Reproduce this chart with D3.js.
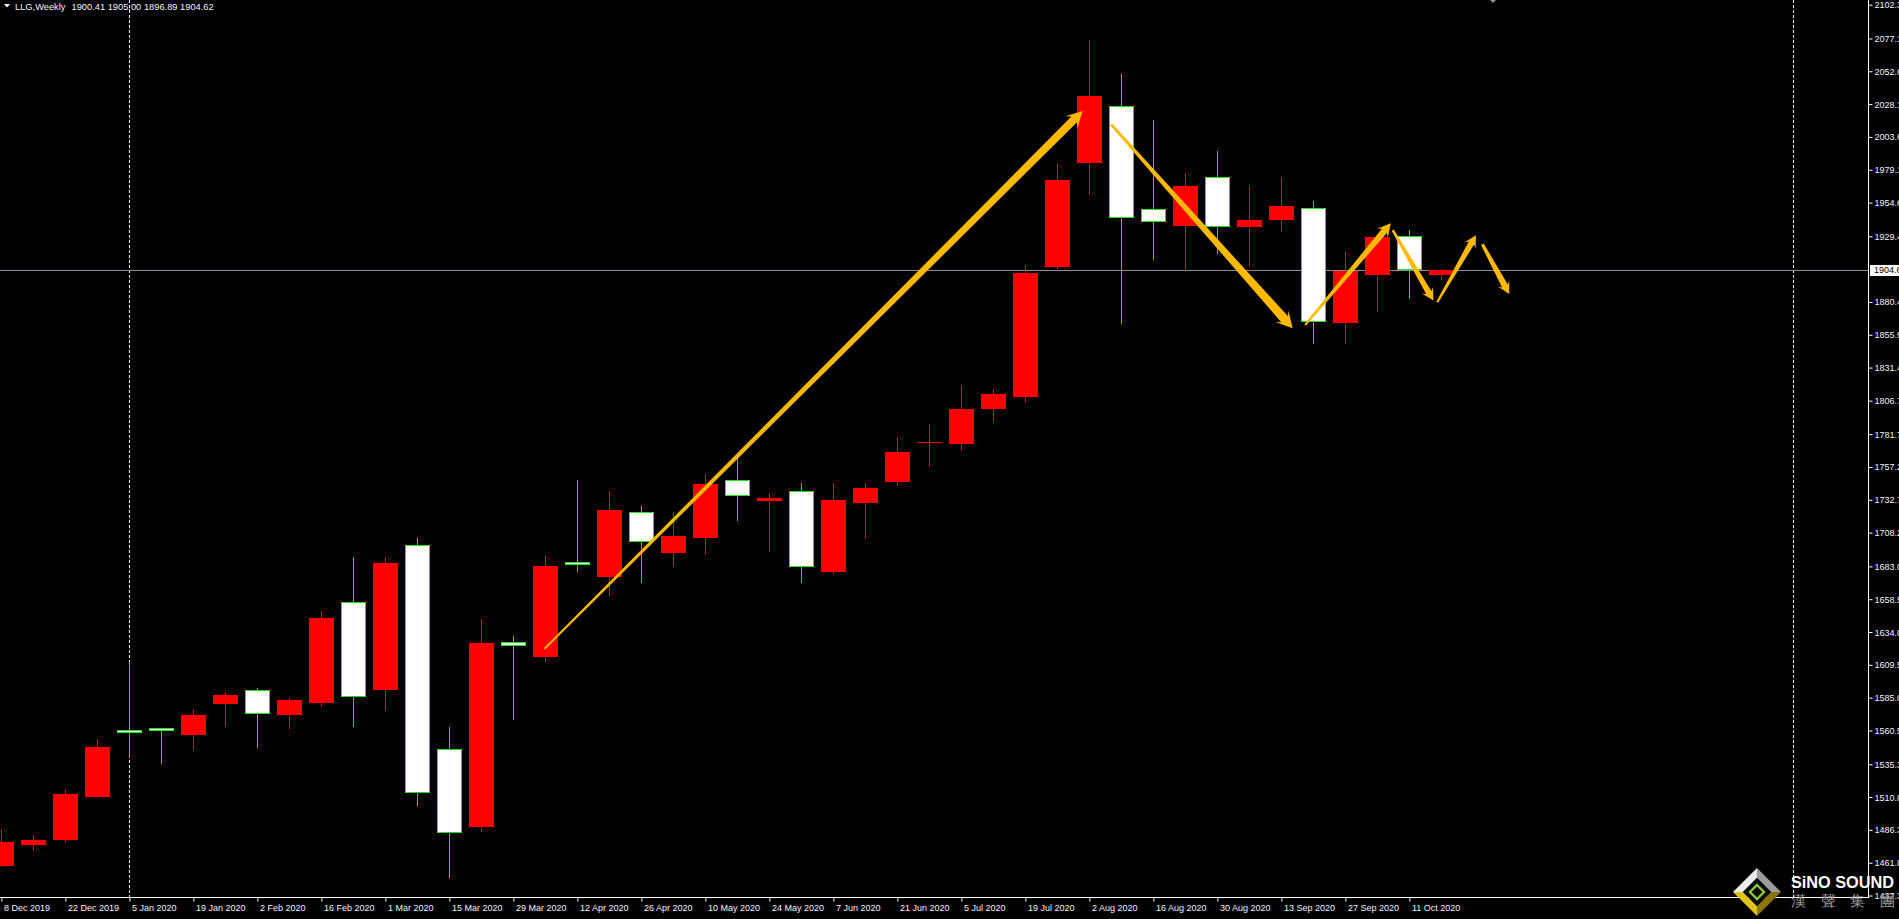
<!DOCTYPE html>
<html><head><meta charset="utf-8">
<script src="https://cdn.jsdelivr.net/npm/d3@7/dist/d3.min.js"></script>
<style>
html,body{margin:0;padding:0;background:#000;overflow:hidden}
svg{display:block}
text{font-family:"Liberation Sans",Arial,sans-serif}
</style>
</head><body>
<svg id="chart" width="1899" height="919"></svg>
<script>
// ---------- DATA ----------
const symbolTitle = "LLG,Weekly";
const weeks = ["8 Dec 2019","15 Dec 2019","22 Dec 2019","29 Dec 2019","5 Jan 2020","12 Jan 2020","19 Jan 2020","26 Jan 2020",
  "2 Feb 2020","9 Feb 2020","16 Feb 2020","23 Feb 2020","1 Mar 2020","8 Mar 2020","15 Mar 2020","22 Mar 2020",
  "29 Mar 2020","5 Apr 2020","12 Apr 2020","19 Apr 2020","26 Apr 2020","3 May 2020","10 May 2020","17 May 2020",
  "24 May 2020","31 May 2020","7 Jun 2020","14 Jun 2020","21 Jun 2020","28 Jun 2020","5 Jul 2020","12 Jul 2020",
  "19 Jul 2020","26 Jul 2020","2 Aug 2020","9 Aug 2020","16 Aug 2020","23 Aug 2020","30 Aug 2020","6 Sep 2020",
  "13 Sep 2020","20 Sep 2020","27 Sep 2020","4 Oct 2020","11 Oct 2020","18 Oct 2020"];
const openP  = [1459.7,1475.3,1479.1,1511.2,1560.7,1562.2,1557.4,1580.6,1590.6,1572.4,1581.3,1656.3,1591.0,1698.8,1546.6,1488.8,
  1626.4,1615.7,1686.1,1675.4,1723.4,1693.3,1704.5,1747.5,1732.1,1739.1,1679.1,1730.6,1746.3,1774.9,1774.6,1800.8,
  1809.5,1906.5,1984.4,2026.5,1949.6,1937.4,1973.5,1936.6,1941.8,1950.3,1864.7,1900.8,1929.4,1900.41];
const highP  = [1487.1,1482.6,1516.2,1554.2,1611.5,1562.2,1575.9,1589.3,1592.3,1584.8,1649.8,1690.1,1690.1,1704.3,1563.2,1643.8,
  1631.1,1690.8,1747.5,1739.3,1728.1,1723.7,1752.0,1764.0,1737.8,1745.3,1745.3,1745.3,1779.6,1789.3,1818.4,1815.5,
  1907.3,1983.4,2076.0,2050.6,2016.2,1976.7,1993.1,1967.0,1973.7,1955.8,1917.7,1930.4,1934.1,1905.00];
const lowP   = [1458.9,1470.9,1477.4,1511.2,1540.3,1535.8,1546.2,1563.4,1547.7,1561.9,1579.1,1563.4,1575.4,1504.5,1450.7,1485.0,
  1568.6,1611.9,1679.1,1661.2,1670.9,1682.8,1692.5,1717.2,1694.0,1670.9,1677.6,1704.5,1743.3,1758.2,1770.2,1791.1,
  1805.8,1905.0,1960.5,1864.2,1912.0,1903.3,1916.5,1906.8,1932.9,1849.3,1849.3,1873.2,1882.9,1896.89];
const closeP = [1477.4,1478.8,1513.2,1548.3,1558.5,1560.0,1572.1,1587.1,1572.7,1583.3,1644.5,1585.4,1685.6,1513.7,1483.9,1625.9,
  1623.4,1683.4,1684.6,1725.2,1701.0,1705.7,1744.6,1735.4,1734.1,1682.4,1732.6,1741.6,1768.4,1775.9,1800.5,1811.7,
  1902.0,1971.5,2034.2,1942.9,1939.9,1967.0,1936.2,1941.6,1952.1,1865.3,1903.5,1928.9,1904.1,1904.62];
const priceTicks = [2102.3,2077.1,2052.6,2028.1,2003.6,1979.1,1954.6,1929.4,1880.4,1855.9,1831.4,1806.7,1781.7,1757.2,
  1732.7,1708.2,1683.0,1658.5,1634.0,1609.5,1585.0,1560.5,1535.3,1510.8,1486.3,1461.8,1437.3];
const dateTickIdx = [0,2,4,6,8,10,12,14,16,18,20,22,24,26,28,30,32,34,36,38,40,42,44];
const separatorIdx = [4,56];   // year separators (5 Jan 2020, 3 Jan 2021)
// annotation arrows [bar index, price]
const arrowFrom = [[16.97,1621.4],[34.68,2013.0],[40.74,1863.2],[43.48,1934.1],[44.87,1880.2],[46.28,1923.5]];
const arrowTo   = [[33.79,2023.0],[40.35,1860.8],[43.42,1939.1],[44.75,1881.4],[46.08,1930.2],[47.12,1886.4]];

// ---------- STYLE ----------
const W = 1899, H = 919;
const plotRight = 1868, plotBottom = 897.5;
const BULL = "#FF0000", BEAR_FILL = "#FFFFFF", BEAR_LINE = "#22E022";
const ARROW = "#FFB900";
const arrowStyle = [
  {w0:2,w1:8,hl:16,hw:8.5,sw:4},{w0:2.5,w1:9,hl:16,hw:8.7,sw:4},{w0:2,w1:6.5,hl:13,hw:7,sw:3},
  {w0:2.5,w1:6,hl:12,hw:6.5,sw:3},{w0:2,w1:6,hl:12,hw:6.5,sw:3},{w0:3,w1:6.5,hl:12,hw:6.5,sw:3}];

const svg = d3.select("#chart");
svg.append("rect").attr("width",W).attr("height",H).attr("fill","#000");

const x = d3.scaleLinear().domain([0,56]).range([1.4, 1.4+56*32]);
const y = d3.scaleLinear().domain([1461.8,2102.3]).range([862.7,4.7]);

const bars = weeks.map((w,i)=>({i,w,o:openP[i],h:highP[i],l:lowP[i],c:closeP[i]}));

// separators
svg.append("g").selectAll("line").data(separatorIdx).join("line")
  .attr("x1",d=>Math.round(x(d))+0.5).attr("x2",d=>Math.round(x(d))+0.5)
  .attr("y1",0).attr("y2",plotBottom)
  .attr("stroke","#fff").attr("stroke-width",1).attr("stroke-dasharray","3,2");

// current price line
const last = bars[bars.length-1];
svg.append("line").attr("x1",0).attr("x2",plotRight).attr("y1",Math.round(y(last.c))+0.5).attr("y2",Math.round(y(last.c))+0.5)
  .attr("stroke","#8C8C98").attr("stroke-width",1);

// candles
const cg = svg.append("g").attr("shape-rendering","crispEdges");
cg.selectAll("line.wick").data(bars).join("line").attr("class","wick")
  .attr("x1",d=>Math.round(x(d.i))+0.5).attr("x2",d=>Math.round(x(d.i))+0.5)
  .attr("y1",d=>y(d.h)).attr("y2",d=>y(d.l))
  .attr("stroke",d=>d.c>=d.o?BULL:BEAR_LINE).attr("stroke-width",1);
cg.selectAll("rect.body").data(bars).join("rect").attr("class","body")
  .attr("x",d=>d.c>=d.o?Math.round(x(d.i))-12:Math.round(x(d.i))-11.5)
  .attr("width",d=>d.c>=d.o?25:24)
  .attr("y",d=>{const t=y(Math.max(d.o,d.c)); return d.c>=d.o?t:t+0.5;})
  .attr("height",d=>{const hh=Math.abs(y(d.o)-y(d.c)); return d.c>=d.o?Math.max(1,hh):Math.max(2,hh-1);})
  .attr("fill",d=>d.c>=d.o?BULL:BEAR_FILL)
  .attr("stroke",d=>d.c>=d.o?"none":BEAR_LINE).attr("stroke-width",1);

// arrows
function arrowPath(p0,p1,s){
  const dx=p1[0]-p0[0], dy=p1[1]-p0[1], L=Math.hypot(dx,dy);
  const ux=dx/L, uy=dy/L, nx=-uy, ny=ux;
  const pt=(a,b)=>[p0[0]+ux*a+nx*b, p0[1]+uy*a+ny*b];
  const pts=[pt(0,s.w0/2),pt(L-s.hl+s.sw,s.w1/2),pt(L-s.hl,s.hw),pt(L,0),pt(L-s.hl,-s.hw),pt(L-s.hl+s.sw,-s.w1/2),pt(0,-s.w0/2)];
  return "M"+pts.map(p=>p[0].toFixed(2)+","+p[1].toFixed(2)).join("L")+"Z";
}
svg.append("g").selectAll("path").data(arrowFrom).join("path")
  .attr("d",(d,k)=>arrowPath([x(d[0]),y(d[1])],[x(arrowTo[k][0]),y(arrowTo[k][1])],arrowStyle[k]))
  .attr("fill",ARROW);

// frame lines
svg.append("line").attr("x1",plotRight+0.5).attr("x2",plotRight+0.5).attr("y1",0).attr("y2",plotBottom+0.5)
  .attr("stroke","#fff").attr("stroke-width",1);
svg.append("line").attr("x1",0).attr("x2",plotRight+0.5).attr("y1",plotBottom).attr("y2",plotBottom)
  .attr("stroke","#fff").attr("stroke-width",1);

// right price axis
const ya = svg.append("g").attr("transform",`translate(${plotRight+0.5},0)`)
  .call(d3.axisRight(y).tickValues(priceTicks).tickSize(4).tickPadding(2).tickFormat(d=>d.toFixed(2)));
ya.select(".domain").remove();
ya.selectAll(".tick line").attr("stroke","#fff");
ya.selectAll(".tick text").attr("fill","#F2F4FF").attr("font-size","9px")
  .attr("font-family","Liberation Sans, Arial, sans-serif").attr("x",6).attr("dy","0.33em");

// current price label
const cy = Math.round(y(last.c));
svg.append("rect").attr("x",1870).attr("y",cy-5).attr("width",40).attr("height",11).attr("fill","#fff");
svg.append("text").attr("x",1874).attr("y",cy).attr("dy","0.35em").attr("font-size","9px")
  .attr("fill","#000").text(last.c.toFixed(2));

// bottom time axis
const xa = svg.append("g").attr("transform",`translate(0,${plotBottom})`)
  .call(d3.axisBottom(x).tickValues(dateTickIdx).tickSize(4).tickFormat(i=>weeks[i]));
xa.select(".domain").remove();
xa.selectAll(".tick line").attr("stroke","#fff");
xa.selectAll(".tick text").attr("fill","#F2F4FF").attr("font-size","9px")
  .attr("font-family","Liberation Sans, Arial, sans-serif")
  .attr("text-anchor","start").attr("x",2).attr("y",13.5).attr("dy",0);

// title
svg.append("path").attr("d","M4,4L10,4L7,7.5Z").attr("fill","#fff");
svg.append("text").attr("x",15).attr("y",9.5).attr("font-size","9.3px").attr("fill","#F2F4FF").text(symbolTitle);
svg.append("text").attr("x",71.5).attr("y",9.5).attr("font-size","9.3px").attr("fill","#F2F4FF")
  .text([last.o,last.h,last.l,last.c].map(v=>v.toFixed(2)).join(" "));

// chart shift marker
svg.append("path").attr("d","M1490,0L1496,0L1493,3Z").attr("fill","#8494A8");

// logo
const lg = svg.append("g").attr("transform","translate(1757,892)");
const O=24, I=14;
const T=[0,-O],R=[O,0],B=[0,O],Lf=[-O,0],t=[0,-I],r=[I,0],b=[0,I],l=[-I,0];
const poly=(pts,f)=>lg.append("polygon").attr("points",pts.map(p=>p.join(",")).join(" ")).attr("fill",f);
poly([Lf,T,t,l],"#ECECEC");
poly([T,R,r,t],"#9C9C9C");
poly([R,B,b,r],"#8C7410");
poly([B,Lf,l,b],"#E2C21A");
poly([t,r,b,l],"#0A0A0A");
lg.append("polygon").attr("points","0,-7 7,0 0,7 -7,0").attr("fill","none").attr("stroke","#8CC63F").attr("stroke-width",2.4);
svg.append("text").attr("x",1791).attr("y",888).attr("font-size","16px").attr("font-weight","bold")
  .attr("fill","#fff").attr("textLength",103).attr("lengthAdjust","spacingAndGlyphs").text("SiNO SOUND");
svg.append("text").attr("x",1791).attr("y",906).attr("font-size","15px")
  .attr("font-family","Noto Sans CJK TC, Noto Sans CJK SC, sans-serif")
  .attr("fill","#9A9A9A").attr("textLength",104).attr("lengthAdjust","spacing").text("漢聲集團");
</script>
</body></html>
